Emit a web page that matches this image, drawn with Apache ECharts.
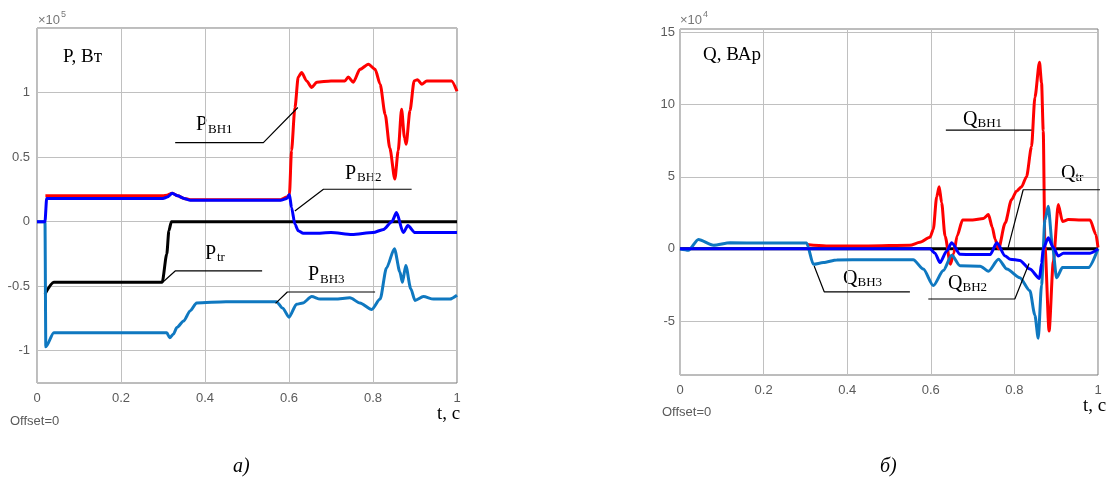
<!DOCTYPE html>
<html>
<head>
<meta charset="utf-8">
<script src="https://cdn.jsdelivr.net/npm/echarts@6.0.0/dist/echarts.min.js"></script>
<style>
  html, body { margin: 0; padding: 0; background: #fff; }
  #main { width: 1110px; height: 482px; }
</style>
</head>
<body>
<div id="main"></div>
<script type="text/javascript">
    // ---- левый график: активная мощность P (x10^5 Вт) ----
    var pBH1T = [0.02, 0.1, 0.2, 0.3, 0.31, 0.322, 0.335, 0.35, 0.365, 0.45, 0.55, 0.58, 0.595, 0.601, 0.606, 0.614, 0.622, 0.63, 0.642, 0.654, 0.666, 0.7, 0.733, 0.741, 0.753, 0.769, 0.789, 0.805, 0.817, 0.829, 0.84, 0.852, 0.86, 0.868, 0.875, 0.879, 0.888, 0.898, 0.906, 0.916, 0.928, 0.95, 0.97, 0.987, 1.0];
    var pBH1V = [0.2, 0.2, 0.2, 0.2, 0.205, 0.22, 0.2, 0.18, 0.17, 0.17, 0.17, 0.17, 0.19, 0.21, 0.55, 0.88, 1.12, 1.155, 1.09, 1.04, 1.08, 1.09, 1.09, 1.12, 1.08, 1.18, 1.22, 1.18, 1.065, 0.83, 0.57, 0.33, 0.55, 0.87, 0.65, 0.6, 0.86, 1.09, 1.1, 1.065, 1.09, 1.09, 1.09, 1.09, 1.01];

    var pBH2T = [0, 0.019, 0.023, 0.1, 0.2, 0.3, 0.31, 0.322, 0.335, 0.35, 0.365, 0.45, 0.55, 0.58, 0.595, 0.601, 0.606, 0.614, 0.622, 0.634, 0.66, 0.7, 0.75, 0.8, 0.825, 0.845, 0.856, 0.872, 0.883, 0.9, 0.95, 1.0];
    var pBH2V = [0, 0, 0.18, 0.18, 0.18, 0.18, 0.19, 0.22, 0.2, 0.18, 0.165, 0.165, 0.165, 0.165, 0.18, 0.21, 0.11, -0.02, -0.07, -0.09, -0.09, -0.085, -0.1, -0.085, -0.06, 0.0, 0.07, -0.085, -0.03, -0.085, -0.085, -0.085];

    var pBH3T = [0, 0.019, 0.021, 0.04, 0.1, 0.2, 0.3, 0.309, 0.316, 0.325, 0.333, 0.349, 0.365, 0.38, 0.45, 0.5, 0.57, 0.585, 0.6, 0.618, 0.633, 0.654, 0.674, 0.71, 0.745, 0.769, 0.797, 0.817, 0.832, 0.851, 0.864, 0.87, 0.878, 0.89, 0.9, 0.92, 0.944, 0.983, 1.0];
    var pBH3V = [0, 0, -0.97, -0.86, -0.86, -0.86, -0.86, -0.86, -0.9, -0.87, -0.82, -0.77, -0.69, -0.63, -0.62, -0.62, -0.62, -0.67, -0.74, -0.64, -0.63, -0.58, -0.6, -0.6, -0.59, -0.63, -0.68, -0.6, -0.36, -0.21, -0.39, -0.47, -0.34, -0.52, -0.61, -0.58, -0.6, -0.6, -0.57];

    var pTrT = [0.019, 0.04, 0.1, 0.2, 0.298, 0.309, 0.314, 0.32, 0.33, 0.5, 0.7, 0.9, 1.0];
    var pTrV = [-0.56, -0.47, -0.47, -0.47, -0.47, -0.25, -0.07, 0, 0, 0, 0, 0, 0];

    // ---- правый график: реактивная мощность Q (x10^4 ВАр) ----
    var qBH1T = [0.303, 0.35, 0.45, 0.55, 0.574, 0.598, 0.606, 0.614, 0.62, 0.626, 0.634, 0.647, 0.655, 0.663, 0.676, 0.7, 0.726, 0.738, 0.747, 0.754, 0.762, 0.778, 0.793, 0.805, 0.817, 0.829, 0.841, 0.849, 0.86, 0.865, 0.869, 0.873, 0.883, 0.893, 0.905, 0.915, 0.929, 0.96, 0.981, 0.995, 1.0];
    var qBH1V = [0.3, 0.2, 0.2, 0.25, 0.45, 0.8, 1.35, 3.6, 4.3, 3.2, 0.9, -1.07, -0.3, 0.9, 2.0, 2.0, 2.1, 2.38, 1.5, 0.65, 0.0, 1.8, 3.4, 4.0, 4.3, 5.0, 7.1, 10.5, 12.95, 11.5, 8.2, 0.2, -5.7, -0.9, 3.07, 1.9, 2.03, 2.0, 2.0, 1.0, 0.1];

    var qBH2T = [0, 0.3, 0.598, 0.61, 0.622, 0.638, 0.65, 0.67, 0.7, 0.742, 0.758, 0.778, 0.79, 0.813, 0.837, 0.86, 0.865, 0.869, 0.881, 0.893, 0.905, 0.917, 0.95, 0.981, 1.0];
    var qBH2V = [0, 0, 0, -0.3, -0.95, -0.15, 0.43, -0.38, -0.4, -0.4, 0.43, -0.5, -0.72, -0.8, -1.4, -2.05, -1.0, 0, 0.77, 0.1, -0.5, -0.3, -0.3, -0.3, 0];

    var qBH3T = [0, 0.02, 0.044, 0.08, 0.12, 0.2, 0.303, 0.319, 0.343, 0.375, 0.45, 0.558, 0.582, 0.606, 0.63, 0.65, 0.67, 0.718, 0.738, 0.762, 0.782, 0.813, 0.837, 0.849, 0.857, 0.865, 0.873, 0.881, 0.891, 0.901, 0.915, 0.95, 0.977, 1.0];
    var qBH3V = [0, -0.1, 0.65, 0.25, 0.42, 0.4, 0.4, -1.07, -0.95, -0.77, -0.75, -0.75, -1.4, -2.55, -1.5, -0.45, -1.18, -1.2, -1.55, -0.72, -1.4, -2.0, -2.9, -4.6, -6.2, -2.5, 2.0, 2.95, 0.2, -2.0, -1.3, -1.3, -1.3, 0];

    var qTrT = [0, 0.5, 1.0];
    var qTrV = [0, 0, 0];

    // выноски (в координатах данных)
    var leadPBH1 = [[0.329, 0.612], [0.539, 0.612], [0.621, 0.884]];
    var leadPBH2 = [[0.892, 0.251], [0.682, 0.251], [0.614, 0.083]];
    var leadPTr = [[0.536, -0.382], [0.329, -0.382], [0.298, -0.473]];
    var leadPBH3 = [[0.805, -0.545], [0.596, -0.545], [0.568, -0.633]];
    var leadQBH1 = [[0.636, 8.24], [0.841, 8.24]];
    var leadQTr = [[1.024, 4.1], [0.821, 4.1], [0.785, 0.08]];
    var leadQBH3 = [[0.321, -1.19], [0.345, -2.98], [0.55, -2.98]];
    var leadQBH2 = [[0.594, -3.48], [0.801, -3.48], [0.835, -1.02]];

    var xTicks = ['0', '0.2', '0.4', '0.6', '0.8', '1'];

    function zip(t, v) {
        return t.map(function (x, i) { return [x, v[i]]; });
    }

    var RED = '#ff0000', BLUE = '#0000ff', LBLUE = '#0f78c0', BLACK = '#000000';
    var GRID = '#c0c0c0', BOX = '#7a7a7a', TICK = '#5a5a5a';
    var SERIF = '"Liberation Serif", "Times New Roman", serif';
    var SANS = '"Liberation Sans", Arial, sans-serif';

    function curve(name, idx, t, v, color) {
        return {
            name: name, type: 'line', xAxisIndex: idx, yAxisIndex: idx,
            data: zip(t, v), showSymbol: false, symbol: 'none',
            smooth: 0.25, smoothMonotone: 'x',
            lineStyle: { color: color, width: 3 },
            silent: true
        };
    }
    function leader(idx, pts) {
        return {
            type: 'line', xAxisIndex: idx, yAxisIndex: idx, data: pts,
            showSymbol: false, symbol: 'none', clip: false, silent: true,
            lineStyle: { color: BLACK, width: 1.2 }, z: 5
        };
    }
    // подпись с индексом: главная буква + нижний индекс
    function subLabel(x, base, main, sub, subX) {
        return [
            { type: 'text', x: x, y: base - 6.5, style: { text: main, font: '20px ' + SERIF, fill: '#000', textVerticalAlign: 'middle' } },
            { type: 'text', x: subX, y: base - 2.5, style: { text: sub, font: '13px ' + SERIF, fill: '#000', textVerticalAlign: 'middle' } }
        ];
    }
    function plain(x, y, text, font, color) {
        return { type: 'text', x: x, y: y, style: { text: text, font: font, fill: color || '#000', textVerticalAlign: 'middle' } };
    }

    var gridStyle = { show: true, borderColor: BOX, borderWidth: 1, backgroundColor: '#fff' };

    var xAxisBase = {
        type: 'value', min: 0, max: 1, interval: 0.2,
        axisLine: { show: false }, axisTick: { show: false },
        axisLabel: { color: TICK, fontFamily: SANS, fontSize: 13, margin: 9,
            formatter: function (v) { return xTicks[Math.round(v / 0.2)]; } },
        splitLine: { show: true, lineStyle: { color: GRID, width: 1 } }
    };

    var myChart = echarts.init(document.getElementById('main'));

    var graphics = [];
    graphics = graphics.concat(
        subLabel(196, 131.7, 'P', 'BH1', 208),
        subLabel(345, 180, 'P', 'BH2', 357),
        subLabel(205, 260, 'P', 'tr', 217),
        subLabel(308, 281.7, 'P', 'BH3', 320),
        subLabel(963, 126, 'Q', 'BH1', 977.5),
        subLabel(1061, 180, 'Q', 'tr', 1075.5),
        subLabel(843, 285, 'Q', 'BH3', 857.5),
        subLabel(948, 290, 'Q', 'BH2', 962.5),
        [
            plain(63, 57, 'P, Вт', '19px ' + SERIF),
            plain(703, 55, 'Q, ВАр', '19px ' + SERIF),
            plain(437, 414.5, 't, c', '19px ' + SERIF),
            plain(1083, 406.5, 't, c', '19px ' + SERIF),
            plain(10, 421, 'Offset=0', '13px ' + SANS, TICK),
            plain(662, 412, 'Offset=0', '13px ' + SANS, TICK),
            plain(38, 20, '×10', '13px ' + SANS, '#777'),
            plain(61, 15, '5', '9px ' + SANS, '#777'),
            plain(680, 20, '×10', '13px ' + SANS, '#777'),
            plain(703, 15, '4', '9px ' + SANS, '#777'),
            plain(233, 467, 'a)', 'italic 20px ' + SERIF),
            plain(880, 467, 'б)', 'italic 20px ' + SERIF)
        ]
    );

    var option = {
        animation: false,
        backgroundColor: '#fff',
        grid: [
            Object.assign({ left: 37, top: 28, width: 420, height: 355 }, gridStyle),
            Object.assign({ left: 680, top: 29, width: 418, height: 346 }, gridStyle)
        ],
        xAxis: [
            Object.assign({ gridIndex: 0 }, xAxisBase),
            Object.assign({ gridIndex: 1 }, xAxisBase)
        ],
        yAxis: [
            {
                gridIndex: 0, type: 'value', min: -1.25, max: 1.5, interval: 0.25,
                axisLine: { show: false }, axisTick: { show: false },
                axisLabel: { color: TICK, fontFamily: SANS, fontSize: 13, margin: 7,
                    formatter: function (v) {
                        var k = Math.round(v * 2);
                        if (Math.abs(v * 2 - k) > 1e-6 || v > 1.2) return '';
                        return String(k / 2);
                    } },
                splitLine: { show: true, lineStyle: { color: ['rgba(0,0,0,0)', GRID], width: 1 } }
            },
            {
                gridIndex: 1, type: 'value', min: -8.75, max: 15.25, interval: 1.25,
                axisLine: { show: false }, axisTick: { show: false },
                axisLabel: { color: TICK, fontFamily: SANS, fontSize: 13, margin: 5,
                    formatter: function (v) {
                        var k = Math.round(v / 5);
                        if (Math.abs(v / 5 - k) > 1e-6 || v > 15.1) return '';
                        return String(k * 5);
                    } },
                splitLine: { show: true, lineStyle: { color: ['rgba(0,0,0,0)', 'rgba(0,0,0,0)', 'rgba(0,0,0,0)', GRID], width: 1 } }
            }
        ],
        series: [
            curve('P_tr', 0, pTrT, pTrV, BLACK),
            curve('P_BH1', 0, pBH1T, pBH1V, RED),
            curve('P_BH3', 0, pBH3T, pBH3V, LBLUE),
            curve('P_BH2', 0, pBH2T, pBH2V, BLUE),
            curve('Q_tr', 1, qTrT, qTrV, BLACK),
            curve('Q_BH1', 1, qBH1T, qBH1V, RED),
            curve('Q_BH3', 1, qBH3T, qBH3V, LBLUE),
            curve('Q_BH2', 1, qBH2T, qBH2V, BLUE),
            leader(0, leadPBH1), leader(0, leadPBH2), leader(0, leadPTr), leader(0, leadPBH3),
            leader(1, leadQBH1), leader(1, leadQTr), leader(1, leadQBH3), leader(1, leadQBH2)
        ],
        graphic: graphics
    };
    myChart.setOption(option);
</script>
</body>
</html>
